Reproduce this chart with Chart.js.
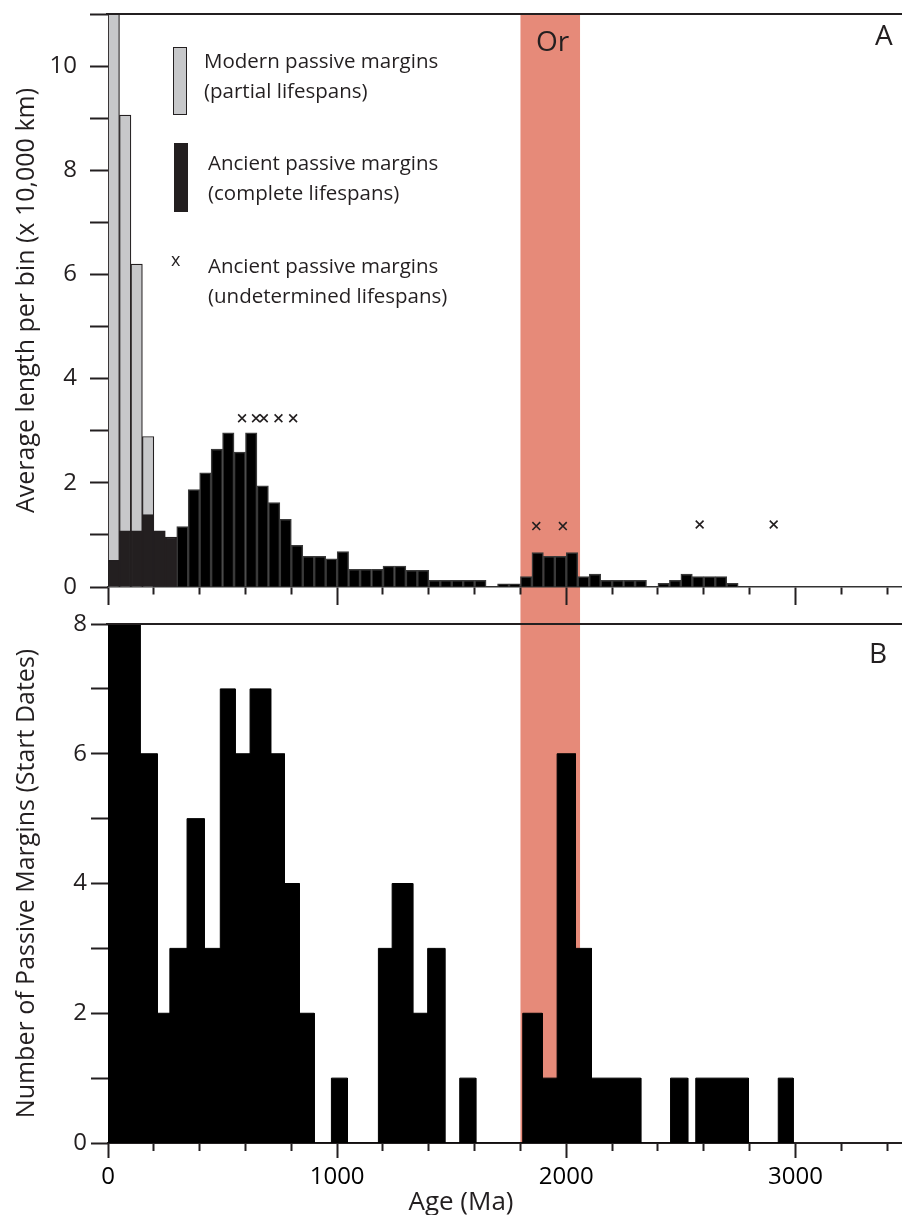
<!DOCTYPE html>
<html>
<head>
<meta charset="utf-8">
<script src="https://cdn.jsdelivr.net/npm/chart.js@4.4.1/dist/chart.umd.min.js"></script>
<style>
  body { margin: 0; background: #fff; font-family: 'Open Sans', sans-serif; color: #231f20; }
  #wrap { position: relative; width: 902px; height: 1215px; overflow: hidden; }
  .box { position: absolute; left: 0; width: 902px; }
  .lbl { position: absolute; white-space: nowrap; z-index: 2; }
  .leg { font-size: 20.5px; line-height: 30px; }
</style>
</head>
<body>
<div id="wrap">
  <div class="box" style="top:0;height:612px"><canvas id="lengths"></canvas></div>
  <div class="box" style="top:612px;height:603px"><canvas id="starts"></canvas></div>

  <!-- legend of panel A -->
  <div class="lbl" style="left:173px;top:47px;width:14px;height:68px;box-sizing:border-box;background:#c7c8ca;border:1.5px solid #231f20"></div>
  <div class="lbl" style="left:174px;top:143px;width:14px;height:69px;background:#231f20"></div>
  <div class="lbl" style="left:171px;top:250px;font-size:18px;line-height:18px">x</div>
  <div class="lbl leg" style="left:204px;top:45px">Modern passive margins<br>(partial lifespans)</div>
  <div class="lbl leg" style="left:208px;top:147px">Ancient passive margins<br>(complete lifespans)</div>
  <div class="lbl leg" style="left:208px;top:250px">Ancient passive margins<br>(undetermined lifespans)</div>

  <div class="lbl" style="left:875px;top:20px;font-size:28px;line-height:28px">A</div>
  <div class="lbl" style="left:869px;top:638px;font-size:28px;line-height:28px">B</div>
  <div class="lbl" style="left:536px;top:26px;font-size:28px;line-height:28px">Or</div>
  <div class="lbl" style="left:361px;width:200px;text-align:center;top:1187px;font-size:26px;line-height:26px">Age (Ma)</div>
</div>
<script>
// panel A: 50 Ma bins (bin start, Ma)
var binStart = [0, 50, 100, 150, 200, 250, 300, 350, 400, 450, 500, 550, 600, 650, 700, 750, 800, 850, 900, 950,
  1000, 1050, 1100, 1150, 1200, 1250, 1300, 1350, 1400, 1450, 1500, 1550, 1600, 1650, 1700, 1750, 1800, 1850, 1900, 1950,
  2000, 2050, 2100, 2150, 2200, 2250, 2300, 2350, 2400, 2450, 2500, 2550, 2600, 2650, 2700];
// modern margins, first bins only (x 10,000 km)
var modernLen = [11.6, 9.06, 6.2, 2.89];
// ancient margins, complete lifespans
var ancientLen = [0.51, 1.08, 1.08, 1.39, 1.08, 0.96, 1.16, 1.87, 2.19, 2.65,
  2.96, 2.59, 2.96, 1.94, 1.62, 1.30, 0.80, 0.59, 0.59, 0.54,
  0.68, 0.34, 0.34, 0.34, 0.40, 0.40, 0.32, 0.32, 0.13, 0.13,
  0.13, 0.13, 0.13, 0, 0.06, 0.06, 0.20, 0.66, 0.59, 0.59,
  0.66, 0.20, 0.25, 0.13, 0.13, 0.13, 0.13, 0, 0.07, 0.13,
  0.25, 0.20, 0.20, 0.20, 0.07];
// undetermined lifespans (x markers)
var undetAge = [585, 646, 680, 744, 808, 1869, 1985, 2582, 2905];
var undetLen = [3.24, 3.24, 3.24, 3.24, 3.24, 1.17, 1.17, 1.2, 1.2];

// panel B: start-date histogram bars
var startFrom = [0, 70, 140, 215, 270, 345, 420, 490, 555, 620, 710, 770, 835, 975, 1180, 1240, 1330, 1395, 1535, 1810,
  1895, 1960, 2040, 2110, 2455, 2565, 2925];
var startTo = [70, 140, 215, 270, 345, 420, 490, 555, 620, 710, 770, 835, 900, 1045, 1240, 1330, 1395, 1470, 1605, 1895,
  1960, 2040, 2110, 2325, 2530, 2795, 2990];
var startCount = [8, 8, 6, 2, 3, 5, 3, 7, 6, 7, 6, 4, 2, 1, 3, 4, 2, 3, 1, 2, 1, 6, 3, 1, 1, 1, 1];

var orosirian = [1800, 2060];
var ageMin = 0, ageMax = 3465;

Chart.defaults.font.family = "'Open Sans', sans-serif";
Chart.defaults.color = '#231f20';

var ink = '#231f20';

// Or band + top frame line
var framePlugin = {
  id: 'frame',
  beforeDraw: function (chart, args, opts) {
    var a = chart.chartArea, ctx = chart.ctx, xs = chart.scales.x;
    var x1 = xs.getPixelForValue(orosirian[0]), x2 = xs.getPixelForValue(orosirian[1]);
    var top = opts.bandUp ? 0 : a.top;
    var bottom = opts.bandDown ? chart.height : a.bottom;
    ctx.save();
    ctx.fillStyle = '#e68a79';
    ctx.fillRect(x1, top, x2 - x1, bottom - top);
    ctx.restore();
  },
  afterDatasetsDraw: function (chart) {
    var a = chart.chartArea, ctx = chart.ctx;
    ctx.save();
    ctx.strokeStyle = ink;
    ctx.lineWidth = 2;
    ctx.beginPath();
    ctx.moveTo(a.left - 2, a.top);
    ctx.lineTo(a.right, a.top);
    ctx.stroke();
    ctx.restore();
  }
};

function minorDash(c) {
  return c.tick && c.tick.value % 1000 === 0 ? [] : [7, 40];
}
function evenLabel(v) { return v % 2 === 0 ? v : ''; }

var modernData = modernLen.map(function (v, i) { return { x: binStart[i] + 25, y: v }; });
var ancientData = binStart.map(function (s, i) { return { x: s + 25, y: ancientLen[i] > 0 ? ancientLen[i] : null }; });
var undetData = undetAge.map(function (a, i) { return { x: a, y: undetLen[i] }; });

new Chart(document.getElementById('lengths'), {
  type: 'bar',
  data: {
    datasets: [{
      label: 'Modern passive margins',
      data: modernData,
      backgroundColor: '#c7c8ca',
      borderColor: ink,
      borderWidth: 1.2,
      grouped: false,
      barPercentage: 1,
      categoryPercentage: 1,
      order: 3
    }, {
      label: 'Ancient passive margins',
      data: ancientData,
      backgroundColor: function (c) { return c.raw && c.raw.x < 300 ? ink : '#000'; },
      borderColor: function (c) { return c.raw && c.raw.x < 300 ? ink : '#3a3a3a'; },
      borderWidth: 1.5,
      grouped: false,
      barPercentage: 1,
      categoryPercentage: 1,
      order: 2
    }, {
      type: 'scatter',
      label: 'Undetermined',
      data: undetData,
      pointStyle: 'crossRot',
      pointRadius: 5.5,
      borderColor: ink,
      borderWidth: 1.6,
      order: 1
    }]
  },
  options: {
    responsive: true,
    maintainAspectRatio: false,
    devicePixelRatio: 1,
    animation: false,
    layout: { autoPadding: false, padding: { top: 14, left: 0, right: 0, bottom: 0 } },
    plugins: { legend: { display: false }, tooltip: { enabled: false }, frame: { bandDown: true } },
    scales: {
      x: {
        type: 'linear', min: ageMin, max: ageMax, offset: false,
        border: { display: true, color: '#333', width: 1.5 },
        grid: { drawOnChartArea: false, offset: false, tickLength: 18, tickColor: ink, tickWidth: 2, tickBorderDash: minorDash },
        ticks: { display: false, stepSize: 200, autoSkip: false, includeBounds: false },
        afterFit: function (s) { s.height = 25; s.paddingLeft = 0; s.paddingRight = 0; }
      },
      y: {
        min: 0, max: 11,
        border: { display: false },
        grid: { drawOnChartArea: false, tickLength: 18, tickColor: ink, tickWidth: 2 },
        ticks: { stepSize: 1, autoSkip: false, padding: 13, font: { size: 24 }, color: ink,
          callback: function (v) { return v <= 10 ? evenLabel(v) : ''; } },
        title: { display: true, text: 'Average length per bin (x 10,000 km)', font: { size: 25 }, color: ink, padding: { top: 12, bottom: 0 } },
        afterFit: function (s) { s.width = 108; s.paddingTop = 0; s.paddingBottom = 0; }
      }
    }
  },
  plugins: [framePlugin]
});

// histogram outline for panel B
var outline = [];
for (var i = 0; i < startFrom.length; i++) {
  outline.push({ x: startFrom[i], y: 0 }, { x: startFrom[i], y: startCount[i] },
    { x: startTo[i], y: startCount[i] }, { x: startTo[i], y: 0 });
}

new Chart(document.getElementById('starts'), {
  type: 'line',
  data: {
    datasets: [{
      label: 'Start dates',
      data: outline,
      fill: 'origin',
      backgroundColor: '#000',
      borderColor: '#000',
      borderWidth: 1,
      pointRadius: 0,
      tension: 0
    }]
  },
  options: {
    responsive: true,
    maintainAspectRatio: false,
    devicePixelRatio: 1,
    animation: false,
    layout: { autoPadding: false, padding: { top: 12, left: 0, right: 0, bottom: 0 } },
    plugins: { legend: { display: false }, tooltip: { enabled: false }, frame: { bandUp: true } },
    scales: {
      x: {
        type: 'linear', min: ageMin, max: ageMax, offset: false,
        border: { display: true, color: ink, width: 2 },
        grid: { drawOnChartArea: false, offset: false, tickLength: 15, tickColor: ink, tickWidth: 2, tickBorderDash: minorDash },
        ticks: { stepSize: 200, autoSkip: false, includeBounds: false, maxRotation: 0, padding: 5, font: { size: 24 }, color: '#000',
          callback: function (v) { return v % 1000 === 0 ? v : ''; } },
        afterFit: function (s) { s.height = 72; s.paddingLeft = 0; s.paddingRight = 0; }
      },
      y: {
        min: 0, max: 8,
        border: { display: false },
        grid: { drawOnChartArea: false, tickLength: 17, tickColor: ink, tickWidth: 2 },
        ticks: { stepSize: 1, autoSkip: false, padding: 4, font: { size: 24 }, color: ink, callback: evenLabel },
        title: { display: true, text: 'Number of Passive Margins (Start Dates)', font: { size: 25 }, color: ink, padding: { top: 12, bottom: 0 } },
        afterFit: function (s) { s.width = 108; s.paddingTop = 0; s.paddingBottom = 0; }
      }
    }
  },
  plugins: [framePlugin]
});
</script>
</body>
</html>
